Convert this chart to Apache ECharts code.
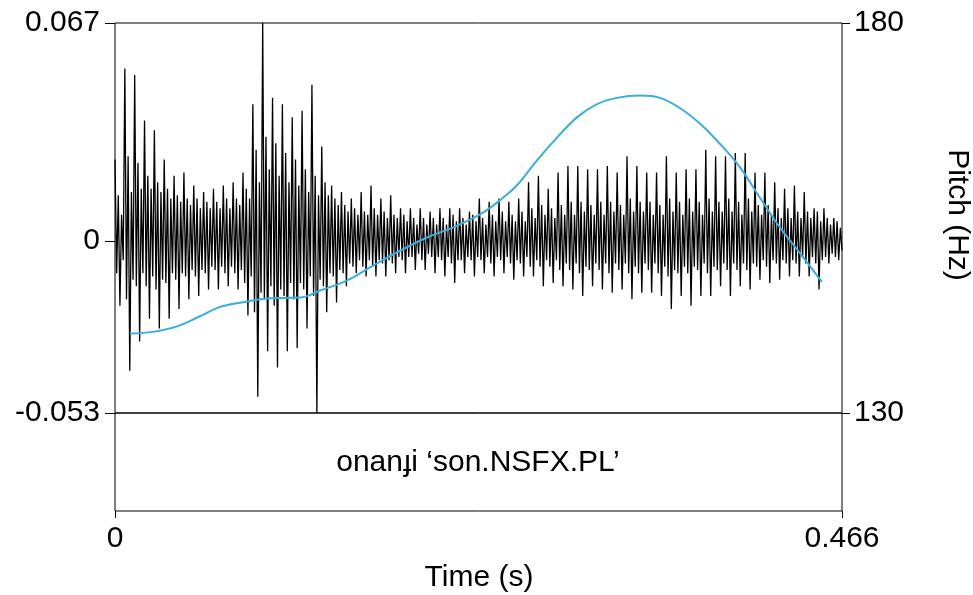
<!DOCTYPE html>
<html>
<head>
<meta charset="utf-8">
<script src="https://cdn.jsdelivr.net/npm/echarts@6/dist/echarts.min.js"></script>
<style>
html,body{margin:0;padding:0;background:#fff;}
#chart{width:973px;height:595px;}
</style>
</head>
<body>
<div id="chart"></div>
<script>
// ---- data ----
const timeRange = [0, 0.466];               // s
const ampTicks = [-0.053, 0, 0.067];         // waveform amplitude axis labels
const pitchTicks = [130, 180];               // Hz
const timeTicks = [0, 0.466];
const gloss = 'onanɟi ‘son.NSFX.PL’';

// waveform samples (uniformly spaced over the time range)
const wave = [
 0.025,-0.010,0.014,-0.020,0.008,-0.006,  0.053,-0.018,0.026,-0.040,0.015,-0.012,
 0.051,-0.014,0.024,-0.031,0.016,-0.010,  0.037,-0.014,0.020,-0.024,0.016,-0.011,
 0.034,-0.015,0.018,-0.027,0.015,-0.012,  0.025,-0.013,0.016,-0.024,0.013,-0.010,
 0.020,-0.012,0.014,-0.021,0.012,-0.010,  0.021,-0.011,0.013,-0.018,0.011,-0.009,
 0.017,-0.011,0.013,-0.017,0.010,-0.009,  0.015,-0.010,0.012,-0.015,0.010,-0.008,
 0.016,-0.009,0.012,-0.015,0.010,-0.008,
 0.017,-0.010,0.013,-0.014,0.010,-0.008,  0.018,-0.010,0.013,-0.015,0.011,-0.009,
 0.021,-0.013,0.016,-0.023,0.013,-0.011,  0.042,-0.022,0.028,-0.048,0.018,-0.016,
 0.067,-0.018,0.032,-0.034,0.022,-0.014,  0.044,-0.020,0.030,-0.039,0.020,-0.015,
 0.042,-0.017,0.027,-0.034,0.018,-0.013,  0.038,-0.018,0.025,-0.033,0.017,-0.013,
 0.040,-0.015,0.022,-0.027,0.015,-0.011,  0.048,-0.017,0.020,-0.053,0.014,-0.012,
 0.029,-0.014,0.018,-0.022,0.014,-0.010,  0.017,-0.011,0.013,-0.019,0.011,-0.009,
 0.015,-0.010,0.011,-0.014,0.009,-0.007,  0.013,-0.008,0.010,-0.010,0.008,-0.006,
 0.015,-0.008,0.009,-0.011,0.008,-0.006,  0.017,-0.008,0.010,-0.011,0.008,-0.006,
 0.013,-0.007,0.009,-0.011,0.007,-0.006,  0.014,-0.007,0.008,-0.010,0.007,-0.005,
 0.010,-0.006,0.008,-0.010,0.006,-0.005,  0.010,-0.005,0.007,-0.009,0.005,-0.004,
 0.010,-0.006,0.007,-0.009,0.005,-0.004,  0.009,-0.005,0.007,-0.010,0.005,-0.005,
 0.010,-0.006,0.007,-0.011,0.005,-0.005,  0.010,-0.007,0.008,-0.013,0.006,-0.006,
 0.010,-0.006,0.007,-0.010,0.005,-0.005,  0.009,-0.006,0.008,-0.011,0.006,-0.005,
 0.013,-0.006,0.007,-0.010,0.005,-0.005,  0.012,-0.007,0.008,-0.011,0.006,-0.005,
 0.013,-0.006,0.009,-0.010,0.006,-0.005,  0.012,-0.007,0.008,-0.012,0.006,-0.006,
 0.013,-0.007,0.009,-0.011,0.006,-0.005,  0.018,-0.008,0.010,-0.011,0.007,-0.006,
 0.020,-0.008,0.011,-0.014,0.008,-0.006,  0.016,-0.008,0.010,-0.013,0.007,-0.006,
 0.021,-0.009,0.011,-0.014,0.008,-0.007,  0.023,-0.009,0.012,-0.015,0.008,-0.007,
 0.023,-0.010,0.012,-0.017,0.009,-0.008,  0.022,-0.009,0.011,-0.014,0.008,-0.007,
 0.022,-0.009,0.012,-0.015,0.008,-0.007,  0.023,-0.010,0.012,-0.016,0.009,-0.007,
 0.021,-0.009,0.011,-0.015,0.008,-0.007,  0.026,-0.010,0.013,-0.018,0.009,-0.008,
 0.023,-0.010,0.012,-0.016,0.009,-0.007,  0.021,-0.009,0.012,-0.016,0.008,-0.007,
 0.021,-0.010,0.011,-0.017,0.008,-0.008,  0.026,-0.011,0.013,-0.021,0.009,-0.009,
 0.021,-0.010,0.012,-0.017,0.008,-0.008,  0.022,-0.010,0.013,-0.020,0.009,-0.008,
 0.022,-0.009,0.012,-0.017,0.008,-0.007,  0.028,-0.010,0.013,-0.017,0.009,-0.008,
 0.026,-0.009,0.012,-0.014,0.009,-0.007,  0.026,-0.009,0.013,-0.017,0.009,-0.007,
 0.027,-0.009,0.012,-0.014,0.008,-0.007,  0.027,-0.009,0.013,-0.015,0.009,-0.007,
 0.021,-0.008,0.011,-0.012,0.008,-0.006,  0.021,-0.008,0.011,-0.013,0.008,-0.006,
 0.018,-0.007,0.010,-0.012,0.007,-0.006,  0.016,-0.007,0.010,-0.011,0.007,-0.006,
 0.017,-0.007,0.009,-0.011,0.007,-0.005,  0.015,-0.007,0.009,-0.011,0.007,-0.005,
 0.010,-0.007,0.009,-0.015,0.006,-0.006,  0.010,-0.005,0.007,-0.007,0.005,-0.004,
 0.007,-0.005,0.006,-0.006,0.004,-0.003
];

// pitch contour
const pitchTime = [0.0096,0.0244,0.0397,0.0545,0.0673,0.0820,0.0994,0.1186,0.1314,0.1487,
  0.1654,0.1827,0.2000,0.2179,0.2359,0.2487,0.2577,0.2705,0.2833,0.2961,
  0.3090,0.3218,0.3365,0.3493,0.3621,0.3749,0.3878,0.4006,0.4134,0.4262,0.4390,0.4531];
const pitchHz = [140.2,140.4,141.1,142.4,143.6,144.2,144.7,144.8,145.7,147.0,
  148.9,150.8,152.5,153.9,155.7,157.6,159.2,162.4,165.3,167.9,
  169.6,170.4,170.7,170.4,169.1,167.1,164.5,161.5,157.6,153.8,150.5,146.8];

// ---- build series data ----
const step = (timeRange[1] - timeRange[0]) / (wave.length - 1);
const waveData = wave.map((v, i) => [timeRange[0] + i * step, v]);
const pitchData = pitchTime.map((t, i) => [t, pitchHz[i]]);

const FONT = 'Liberation Sans, Arial, sans-serif';
const FS = 30;

const chart = echarts.init(document.getElementById('chart'), null, {renderer: 'canvas'});
chart.setOption({
  animation: false,
  backgroundColor: '#fff',
  grid: [
    {left: 115, top: 23, width: 727, height: 390, show: true, borderColor: '#000', borderWidth: 1, backgroundColor: 'transparent'},
    {left: 115, top: 413, width: 727, height: 98, show: true, borderColor: '#000', borderWidth: 1, backgroundColor: 'transparent'}
  ],
  xAxis: [
    {gridIndex: 0, type: 'value', min: timeRange[0], max: timeRange[1], show: false},
    {gridIndex: 1, type: 'value', min: timeRange[0], max: timeRange[1],
      axisLine: {show: false},
      splitLine: {show: false},
      axisTick: {show: true, inside: false, length: 7, customValues: timeTicks, lineStyle: {color: '#000', width: 1}},
      axisLabel: {customValues: timeTicks, margin: 13, color: '#000', fontSize: FS, fontFamily: FONT,
        formatter: v => String(v)}
    }
  ],
  yAxis: [
    {gridIndex: 0, type: 'value', position: 'left', min: ampTicks[0], max: ampTicks[2],
      axisLine: {show: false}, splitLine: {show: false},
      axisTick: {show: true, inside: false, length: 10, customValues: ampTicks, lineStyle: {color: '#000', width: 1}},
      axisLabel: {customValues: ampTicks, margin: 15, color: '#000', fontSize: FS, fontFamily: FONT,
        formatter: v => String(v)}
    },
    {gridIndex: 0, type: 'value', position: 'right', min: pitchTicks[0], max: pitchTicks[1],
      axisLine: {show: false}, splitLine: {show: false},
      axisTick: {show: true, inside: false, length: 8, customValues: pitchTicks, lineStyle: {color: '#000', width: 1}},
      axisLabel: {customValues: pitchTicks, margin: 12, color: '#000', fontSize: FS, fontFamily: FONT}
    },
    {gridIndex: 1, type: 'value', min: 0, max: 1, show: false}
  ],
  series: [
    {type: 'line', xAxisIndex: 0, yAxisIndex: 0, data: waveData, showSymbol: false, symbol: 'none',
      lineStyle: {color: '#000', width: 1.3}, silent: true, z: 2},
    {type: 'line', xAxisIndex: 0, yAxisIndex: 1, data: pitchData, showSymbol: false, symbol: 'none', smooth: 0.4,
      lineStyle: {color: '#3aaee0', width: 2}, silent: true, z: 3}
  ],
  graphic: [
    {type: 'text', x: 478, y: 463, silent: true,
      style: {text: gloss, fill: '#000', font: FS + 'px ' + FONT, textAlign: 'center', textVerticalAlign: 'middle'}},
    {type: 'text', x: 479, y: 578, silent: true,
      style: {text: 'Time (s)', fill: '#000', font: FS + 'px ' + FONT, textAlign: 'center', textVerticalAlign: 'middle'}},
    {type: 'text', x: 957, y: 215, rotation: -Math.PI / 2, silent: true,
      style: {text: 'Pitch (Hz)', fill: '#000', font: FS + 'px ' + FONT, textAlign: 'center', textVerticalAlign: 'middle'}}
  ]
});
</script>
</body>
</html>
